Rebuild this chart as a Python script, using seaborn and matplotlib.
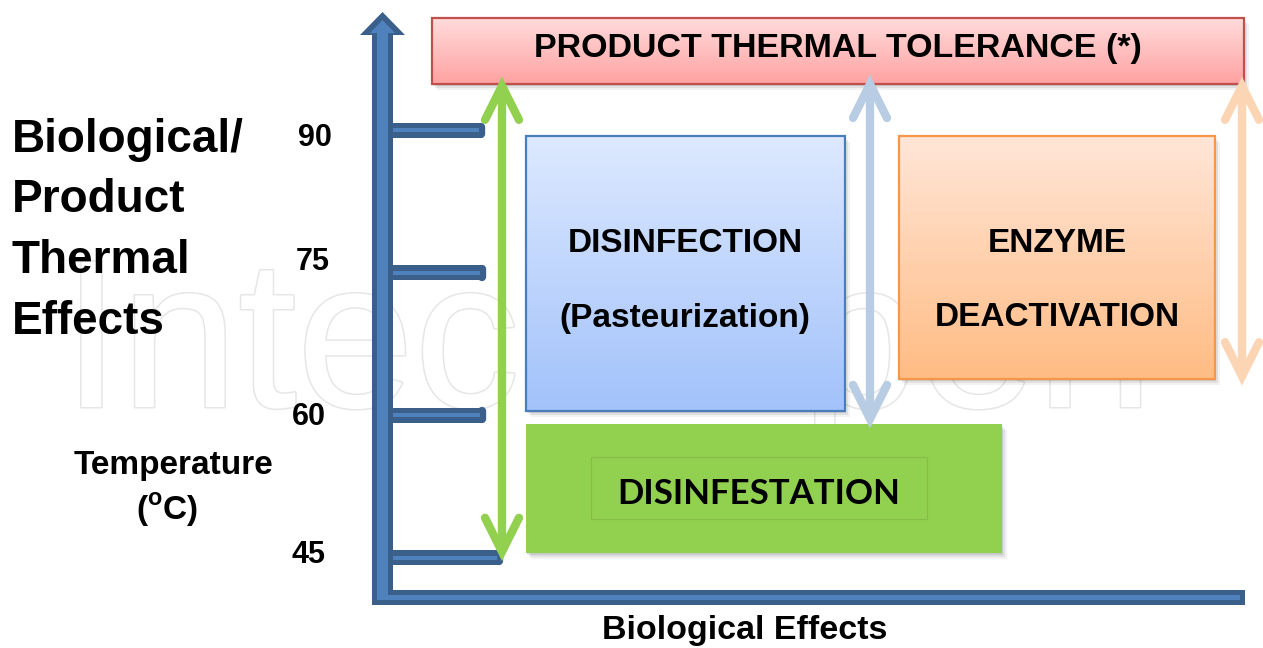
import numpy as np
import matplotlib
matplotlib.use("Agg")
import matplotlib.pyplot as plt
import seaborn as sns
from matplotlib.patches import Rectangle, Polygon, FancyBboxPatch
import matplotlib.patheffects as pe
from matplotlib.colors import LinearSegmentedColormap

# ---------------- data ----------------
tick_temps = [45, 60, 75, 90]
tick_labels = ["45", "60", "75", "90"]
region_names = ["PRODUCT THERMAL TOLERANCE (*)", "DISINFECTION", "ENZYME", "DISINFESTATION"]
region_sub = ["", "(Pasteurization)", "DEACTIVATION", ""]
region_low = [94.9, 60.4, 63.8, 45.5]     # deg C
region_high = [101.9, 89.4, 89.4, 59.1]   # deg C
arrow_low = [45.6, 59.6, 64.1]
arrow_high = [94.7, 94.9, 94.7]

# ---------------- style ----------------
sns.set_theme(style="white")
plt.rcParams['font.family'] = ['Liberation Sans', 'DejaVu Sans']
plt.rcParams['text.color'] = 'black'
plt.rcParams['mathtext.fontset'] = 'custom'
plt.rcParams['mathtext.rm'] = 'Liberation Sans:bold'
plt.rcParams['mathtext.bf'] = 'Liberation Sans:bold'

W, H = 1263, 648
PX = 9.49            # pixels per degree
Y45 = 557.5          # pixel row of 45 C
def T(py):
    return 45 + (Y45 - py) / PX
def dT(px):
    return px / PX

fig = plt.figure(figsize=(W / 100, H / 100), dpi=100)
ax = fig.add_axes([0, 0, 1, 1])
ax.set_axis_off()

DARK = "#3a5f8b"
LIGHT = "#4f81bd"
TXT = dict(color="black", fontweight="bold", family=["Liberation Sans", "DejaVu Sans"], zorder=5)

# watermark
ax.text(62, T(407), "IntechOpen", fontsize=152, color="white", ha="left",
        va="baseline", zorder=0,
        path_effects=[pe.Stroke(linewidth=2.2, foreground="#e6e6e6"), pe.Normal()])

# ---------------- axes arrows ----------------
outer = [(372, T(605)), (372, T(35)), (360, T(35)), (382.5, T(12)), (405, T(35)),
         (393, T(35)), (393, T(605))]
inner = [(377, T(600)), (377, T(33)), (370, T(33)), (382.5, T(20)), (395, T(33)),
         (388, T(33)), (388, T(600))]
ax.add_patch(Polygon(outer, closed=True, fc=DARK, ec="none", zorder=3))
ax.add_patch(Polygon(inner, closed=True, fc=LIGHT, ec="none", zorder=3.1))
ax.add_patch(Rectangle((372, T(605)), 1245 - 372, dT(15), fc=DARK, ec="none", zorder=3))
ax.add_patch(Rectangle((378, T(600)), 1240 - 378, dT(5), fc=LIGHT, ec="none", zorder=3.1))

tick_end = [503, 486, 486, 485]
for t, xe in zip(tick_temps, tick_end):
    ax.add_patch(Rectangle((392, t - dT(7.5)), xe - 392 - 4, dT(15), fc=DARK, ec="none", zorder=3))
    ax.plot([xe - 4, xe - 4], [t - dT(3.7), t + dT(3.7)], color=DARK, lw=6,
            solid_capstyle="round", zorder=3)
    ax.add_patch(Rectangle((393, t - dT(2)), xe - 393 - 6, dT(4), fc=LIGHT, ec="none", zorder=3.1))

tick_lx = [309, 309, 313, 315]
tick_ly = [555, 417, 262, 138]
for lab, lx, ly in zip(tick_labels, tick_lx, tick_ly):
    ax.text(lx, T(ly), lab, fontsize=22, ha="center", va="center", **TXT)

# ---------------- boxes ----------------
def shadow(x0, x1, t0, t1):
    for k, a in zip([6, 4, 2], [0.05, 0.07, 0.10]):
        ax.add_patch(Rectangle((x0 + k - 1, t0 - dT(k)), x1 - x0, t1 - t0,
                               fc="black", ec="none", alpha=a, zorder=1.5))

def grad_box(x0, x1, t0, t1, top, bottom, edge):
    shadow(x0, x1, t0, t1)
    cmap = LinearSegmentedColormap.from_list("g", [bottom, top])
    grad = np.linspace(0, 1, 256).reshape(-1, 1)
    ax.imshow(grad, extent=[x0, x1, t0, t1], origin="lower", cmap=cmap,
              aspect="auto", zorder=2, interpolation="bilinear")
    ax.add_patch(Rectangle((x0, t0), x1 - x0, t1 - t0, fc="none", ec=edge,
                           lw=1.6, zorder=2.2))

box_x = [(432, 1244), (526, 845), (899, 1215), (526, 1002)]
grad_box(*box_x[0], region_low[0], region_high[0], "#ffdcdc", "#ffa2a2", "#c0504d")
grad_box(*box_x[1], region_low[1], region_high[1], "#dde9ff", "#a2c2fa", "#4a7ebb")
grad_box(*box_x[2], region_low[2], region_high[2], "#ffe6d8", "#ffbc84", "#f79646")
# disinfestation (flat)
x0, x1 = box_x[3]
shadow(x0, x1, region_low[3], region_high[3])
ax.add_patch(Rectangle((x0, region_low[3]), x1 - x0, region_high[3] - region_low[3],
                       fc="#92d050", ec="none", zorder=2))
ax.add_patch(Rectangle((591, T(519)), 927 - 591, dT(62), fc="none", ec="#84bd4a",
                       lw=0.8, zorder=2.2))

# texts in boxes
ax.text(838, T(48), region_names[0], fontsize=24.5, ha="center", va="center", **TXT)
ax.text(685, T(243), region_names[1], fontsize=24, ha="center", va="center", **TXT)
ax.text(685, T(318), region_sub[1], fontsize=24, ha="center", va="center", **TXT)
ax.text(1057, T(243), region_names[2], fontsize=24, ha="center", va="center", **TXT)
ax.text(1057, T(318), region_sub[2], fontsize=24, ha="center", va="center", **TXT)
ax.text(759, T(494), region_names[3], fontsize=25, ha="center", va="center",
        color="black", fontweight="bold", zorder=5, family=["Lato", "Open Sans", "DejaVu Sans"])

# ---------------- double arrows ----------------
arrow_x = [502, 870, 1242]
arrow_col = ["#92d050", "#b8cce4", "#fcd5b5"]
LW = 6.0
for xa, lo, hi, c in zip(arrow_x, arrow_low, arrow_high, arrow_col):
    ax.plot([xa, xa], [lo + dT(3), hi - dT(3)], color=c, lw=LW, solid_capstyle="butt", zorder=4)
    ax.plot([xa - 17, xa, xa + 17], [hi - dT(34), hi, hi - dT(34)], color=c, lw=LW,
            solid_capstyle="round", solid_joinstyle="miter", zorder=4)
    ax.plot([xa - 17, xa, xa + 17], [lo + dT(34), lo, lo + dT(34)], color=c, lw=LW,
            solid_capstyle="round", solid_joinstyle="miter", zorder=4)

# ---------------- left labels ----------------
for line, by in zip(["Biological/", "Product", "Thermal", "Effects"], [152, 212, 273, 334]):
    ax.text(12, T(by), line, fontsize=33, ha="left", va="baseline", **TXT)
ax.text(174, T(465), "Temperature", fontsize=24, ha="center", va="center", **TXT)
ax.text(167, T(510), r"($^{\mathrm{o}}$C)", fontsize=24, ha="center", va="center", **TXT)
ax.text(745, T(631), "Biological Effects", fontsize=24.5, ha="center", va="center", **TXT)

ax.set_xlim(0, W)
ax.set_ylim(T(H), T(0))
fig.savefig("out.png", dpi=100, facecolor="white")
